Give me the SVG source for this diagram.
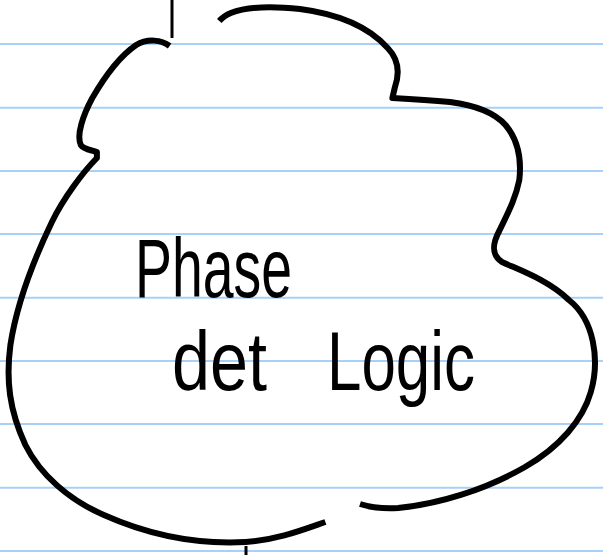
<svg xmlns="http://www.w3.org/2000/svg" width="603" height="555" viewBox="0 0 603 555">
<style>
.rule{stroke:#a9d1f7;stroke-width:2}
.outline{fill:none;stroke:#000;stroke-width:6;stroke-linecap:butt;stroke-linejoin:round}
.tick{fill:none;stroke:#000;stroke-width:3}
.hand{font-family:"Liberation Sans","DejaVu Sans",sans-serif;font-size:84px;fill:#000}
</style>
<rect width="603" height="555" fill="#fff"/>
<g id="paper-lines">
<line class="rule" x1="0" y1="44" x2="603" y2="44"/>
<line class="rule" x1="0" y1="107.7" x2="603" y2="107.7"/>
<line class="rule" x1="0" y1="171" x2="603" y2="171"/>
<line class="rule" x1="0" y1="234" x2="603" y2="234"/>
<line class="rule" x1="0" y1="297.7" x2="603" y2="297.7"/>
<line class="rule" x1="0" y1="361" x2="603" y2="361"/>
<line class="rule" x1="0" y1="424" x2="603" y2="424"/>
<line class="rule" x1="0" y1="487.7" x2="603" y2="487.7"/>
<line class="rule" x1="0" y1="551" x2="603" y2="551"/>
</g>
<g id="connectors">
<line class="tick" x1="172" y1="0" x2="172" y2="38"/>
<line class="tick" x1="246" y1="546" x2="246" y2="555"/>
</g>
<g id="phase-det-logic">
<path class="outline" d="M169.6,46 C161.6,40 147.7,38 136.2,45 C120,56 103.9,78 92.3,98 C83.1,115 76.2,135 80.8,145 C84.2,150 92.3,150 96.9,152 L96.9,158 C83.1,172 63.5,198 51.9,222 C34.6,258 17.3,300 10.4,345 C5.8,380 9.2,410 25.4,445 C40.4,475 69.2,500 103.9,515 C144.3,533 190.4,545 245.8,542 C277,540 302.3,530 325.4,522"/>
<path class="outline" d="M360,504 C369.3,507 380.8,509 398.1,508 C438.5,504 484.7,490 525,467 C559.7,447 582.8,420 590.8,392 C600,360 594.3,320 568.9,300 C548.2,280 519.3,270 502,262 C491.6,255 491.6,245 499.7,230 C507.8,213 515.8,198 519.3,180 C521.6,160 518.1,140 505.5,125 C493.9,112 473.1,105 450.1,102 C427,100 409.7,99 392.4,98 L394.7,88 C399.3,75 399.3,60 387.7,48 C371.6,30 346.2,15 300,9 C271.2,6 245.8,7 230.8,13 C226.2,15 222.7,17 219.3,21"/>
<text class="hand" x="135" y="297" textLength="157" lengthAdjust="spacingAndGlyphs">Phase</text>
<text class="hand" x="172" y="390" textLength="95" lengthAdjust="spacingAndGlyphs">det</text>
<text class="hand" x="327" y="390" textLength="148" lengthAdjust="spacingAndGlyphs">Logic</text>
</g>
</svg>
